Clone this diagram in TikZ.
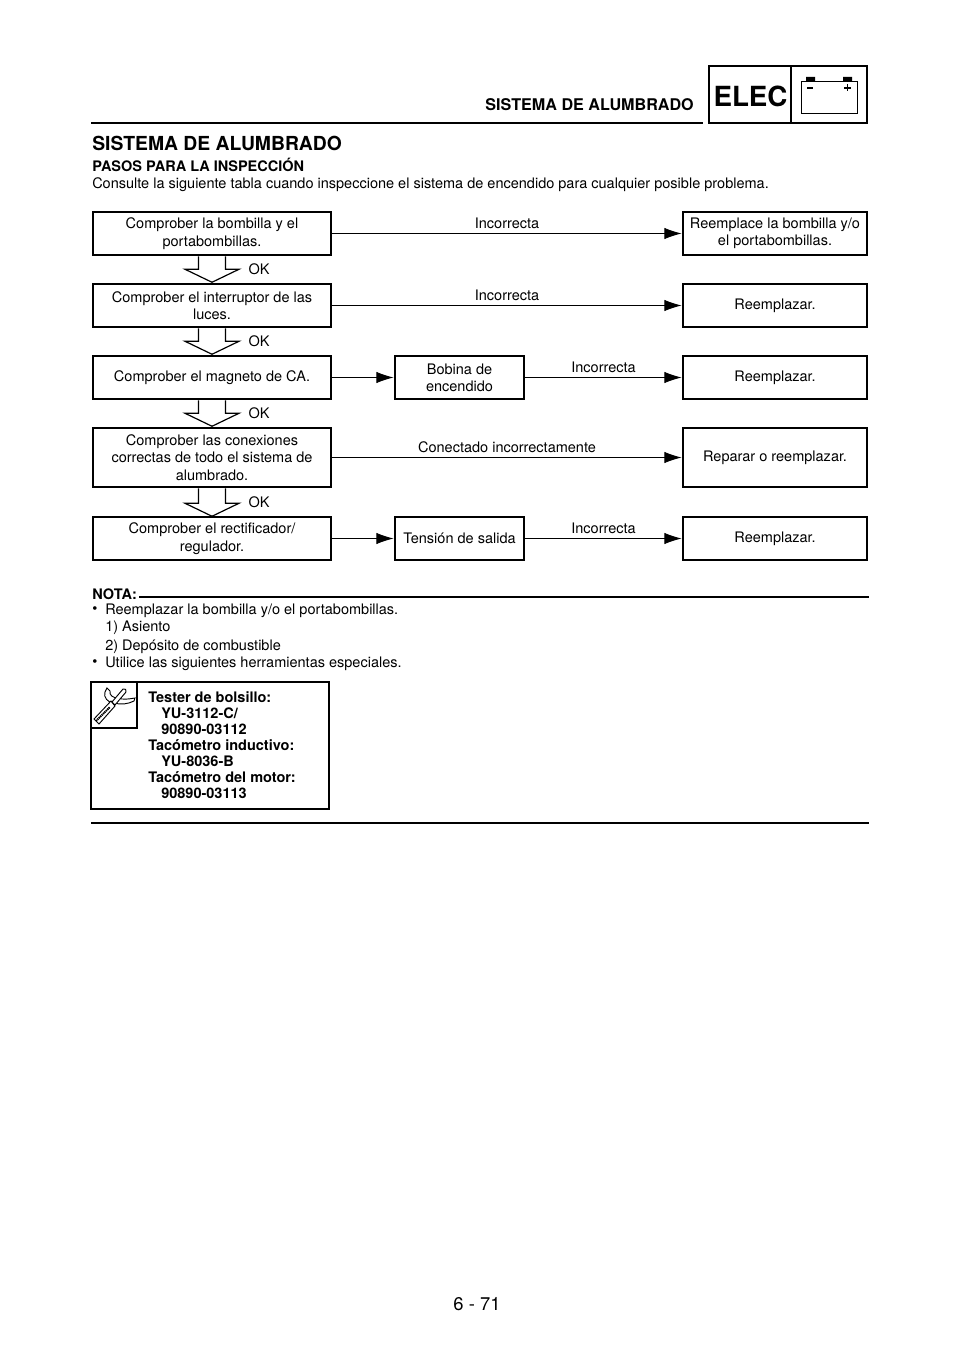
\documentclass[tikz,border=0pt]{standalone}
\usepackage{fontspec}
\setmainfont{TeX Gyre Heros}
\usetikzlibrary{arrows.meta}
\tikzset{
  checkbox/.style={draw, line width=1.9pt, fill=white, align=center, inner sep=0pt},
  flow/.style={-{Latex[length=13pt,width=8.5pt]}, line width=0.7pt},
  okarrow/.style={line width=0.9pt, line join=miter},
  rule/.style={line width=1.9pt},
  body/.style={anchor=west, inner sep=0pt, font=\bodyfont},
  tool/.style={anchor=west, inner sep=0pt, font=\bodyfont\bfseries}
}
\newcommand{\bodyfont}{\fontsize{10.88}{13}\selectfont}
\begin{document}
\begin{tikzpicture}[x=0.75pt, y=-0.75pt, every node/.style={font=\bodyfont}]
  \useasboundingbox (0,0) rectangle (960,1358);
  % page header
  \draw[rule] (91,123) -- (703,123);
  \node[anchor=east, inner sep=0pt, font=\fontsize{12.1}{14}\selectfont\bfseries] (runhead) at (694,105) {SISTEMA DE ALUMBRADO};
  \node[draw, line width=1.9pt, minimum width=158*0.75pt, minimum height=57*0.75pt, inner sep=0pt] (tab) at (788,94.5) {};
  \draw[line width=1.9pt] (791,66) -- (791,123);
  \node[inner sep=0pt, font=\fontsize{20.8}{24}\selectfont\bfseries] (elec) at (750.5,96) {ELEC};
  % battery
  \draw[line width=0.6pt] (801,81) rectangle (857,113);
  \fill (806,77) rectangle (815,81) (843,77) rectangle (852,81);
  \draw[line width=0.9pt] (807,88) -- (813,88) (844,88) -- (851,88) (847.5,84.5) -- (847.5,91.5);
  % headings
  \node[body, font=\fontsize{14.5}{16}\selectfont\bfseries] (title) at (92,143) {SISTEMA DE ALUMBRADO};
  \node[tool] (steps) at (92,165) {PASOS PARA LA INSPECCIÓN};
  \node[body] (intro) at (92,184.5) {Consulte la siguiente tabla cuando inspeccione el sistema de encendido para cualquier posible problema.};
  % left column
  \node[checkbox, minimum width=238*0.75pt, minimum height=43*0.75pt] (bulb) at (212,233.5) {Comprober la bombilla y el\\portabombillas.};
  \node[checkbox, minimum width=238*0.75pt, minimum height=43*0.75pt] (switch) at (212,305.5) {Comprober el interruptor de las\\luces.};
  \node[checkbox, minimum width=238*0.75pt, minimum height=43*0.75pt] (magneto) at (212,377.5) {Comprober el magneto de CA.};
  \node[checkbox, minimum width=238*0.75pt, minimum height=59*0.75pt] (wiring) at (212,457.5) {Comprober las conexiones\\correctas de todo el sistema de\\alumbrado.};
  \node[checkbox, minimum width=238*0.75pt, minimum height=43*0.75pt] (rectifier) at (212,538.5) {Comprober el rectificador/\\regulador.};
  % middle column
  \node[checkbox, minimum width=129*0.75pt, minimum height=43*0.75pt] (coil) at (459.5,377.5) {Bobina de\\encendido};
  \node[checkbox, minimum width=129*0.75pt, minimum height=43*0.75pt] (voltage) at (459.5,538.5) {Tensión de salida};
  % right column
  \node[checkbox, minimum width=184*0.75pt, minimum height=43*0.75pt] (bulbfix) at (775,233.5) {Reemplace la bombilla y/o\\el portabombillas.};
  \node[checkbox, minimum width=184*0.75pt, minimum height=43*0.75pt] (switchfix) at (775,305.5) {Reemplazar.};
  \node[checkbox, minimum width=184*0.75pt, minimum height=43*0.75pt] (coilfix) at (775,377.5) {Reemplazar.};
  \node[checkbox, minimum width=184*0.75pt, minimum height=59*0.75pt] (wiringfix) at (775,457.5) {Reparar o reemplazar.};
  \node[checkbox, minimum width=184*0.75pt, minimum height=43*0.75pt] (voltagefix) at (775,538.5) {Reemplazar.};
  % connectors
  \draw[flow] (bulb) -- node[above=2pt, inner sep=1pt] {Incorrecta} (bulbfix);
  \draw[flow] (switch) -- node[above=2pt, inner sep=1pt] {Incorrecta} (switchfix);
  \draw[flow] (magneto) -- (coil);
  \draw[flow] (coil) -- node[above=2pt, inner sep=1pt] {Incorrecta} (coilfix);
  \draw[flow] (wiring) -- node[above=2pt, inner sep=1pt] {Conectado incorrectamente} (wiringfix);
  \draw[flow] (rectifier) -- (voltage);
  \draw[flow] (voltage) -- node[above=2pt, inner sep=1pt] {Incorrecta} (voltagefix);
  % OK arrows
  \foreach \from/\tall/\oky in {bulb/13/269, switch/13/341, magneto/13/413, wiring/15/502} {
    \draw[okarrow] ([xshift=-13.5*0.75pt]\from.south) -- ++(0,\tall) -- ++(-13.5,0) -- ++(27,13) -- ++(27,-13) -- ++(-13.5,0) -- ++(0,-\tall);
    \node[inner sep=0pt] (ok\from) at (259,\oky) {OK};
  }
  % note
  \node[tool] (note) at (92,594) {NOTA:};
  \draw[rule] (139,597) -- (869,597);
  \node[body] (dot1) at (92,610.5) {•};
  \node[body] (item1) at (105,610.5) {Reemplazar la bombilla y/o el portabombillas.};
  \node[body] (item2) at (105,628) {1) Asiento};
  \node[body] (item3) at (105,646.5) {2) Depósito de combustible};
  \node[body] (dot2) at (92,663.5) {•};
  \node[body] (item4) at (105,663.5) {Utilice las siguientes herramientas especiales.};
  % tools box
  \draw[line width=1.9pt] (91,682) rectangle (329,809);
  \draw[line width=1.9pt] (91,728) -- (137,728) -- (137,682);
  \node[tool] (tool1) at (148,697) {Tester de bolsillo:};
  \node[tool] (tool2) at (161,713) {YU-3112-C/};
  \node[tool] (tool3) at (161,729) {90890-03112};
  \node[tool] (tool4) at (148,745) {Tacómetro inductivo:};
  \node[tool] (tool5) at (161,761) {YU-8036-B};
  \node[tool] (tool6) at (148,777) {Tacómetro del motor:};
  \node[tool] (tool7) at (161,793) {90890-03113};
  % wrench and screwdriver
  \draw[line width=0.7pt] (105,692) .. controls (103,697) and (108,703) .. (114,703) .. controls (121,705) and (128,704) .. (134,701) -- (135,698) .. controls (129,699) and (123,700) .. (118,698) .. controls (113,698) and (109,695) .. (110,691) -- (107,688) -- cycle;
  \draw[line width=0.7pt, fill=white] (94,719) -- (99,724) -- (115,706) -- (111,701) -- cycle;
  \draw[line width=0.7pt, fill=white] (112,702) -- (123,689) .. controls (125,688) and (127,690) .. (126,692) -- (115,705) -- cycle;
  \draw[line width=1.5pt, dash pattern=on 1pt off 0.5pt] (96,721) -- (110,707);
  \draw[rule] (91,823) -- (869,823);
  \node[inner sep=0pt, font=\fontsize{13.8}{15}\selectfont] (pageno) at (477,1304) {6 - 71};
\end{tikzpicture}
\end{document}
